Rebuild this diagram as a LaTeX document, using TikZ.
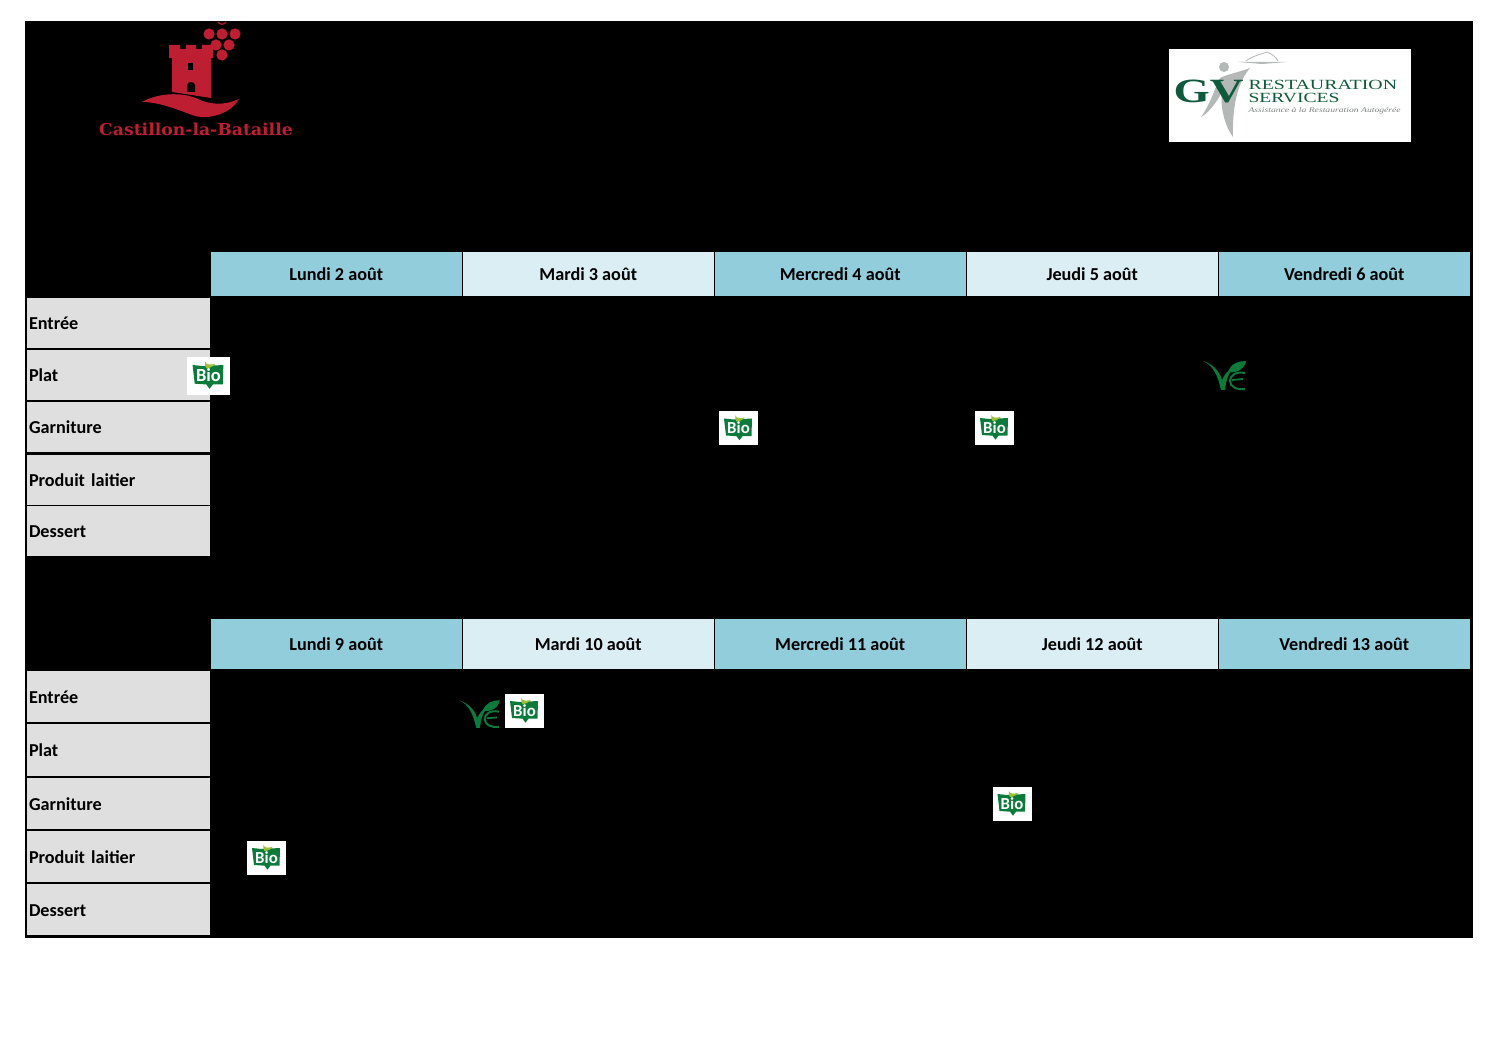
\documentclass[tikz,border=0pt]{standalone}
\usepackage{fontspec}
\setmainfont{Carlito}
\newfontfamily\logoserif{DejaVu Serif}
\newfontfamily\gvserif{Liberation Serif}
\definecolor{headdark}{HTML}{92CDDC}
\definecolor{headlight}{HTML}{DAEEF3}
\definecolor{rowgrey}{HTML}{DFDFDF}
\definecolor{castred}{HTML}{BE1E32}
\definecolor{biogreen}{HTML}{0B7A3B}
\definecolor{bioleaf}{HTML}{9DBF3A}
\definecolor{gvgreen}{HTML}{0F5A3C}
\definecolor{gvgrey}{HTML}{B4B8B6}
\tikzset{
  daycell/.style={minimum width=125.5pt,minimum height=22pt,inner sep=0pt,text=black,
    font=\fontsize{9.1pt}{10pt}\selectfont\bfseries,text height=7.5pt,text depth=1pt},
  rowcell/.style={fill=rowgrey,text width=89.5pt,minimum height=25pt,inner xsep=1pt,inner ysep=0pt,
    align=left,text=black,font=\fontsize{9.1pt}{10pt}\selectfont\bfseries,text height=7.5pt,text depth=1pt},
  biobadge/.pic={
    \fill[white] (-19.5,-17) rectangle (19.5,17);
    \fill[biogreen] (-14.5,-10) -- (-5,-9) -- (13.5,-10) -- (13,7.5) -- (4,7.7) -- (1,11.7) -- (-2,7.7) -- (-12.5,7) -- cycle;
    \fill[bioleaf] (-3,-13) .. controls (-2,-10) and (1,-10) .. (6,-11) .. controls (4,-8) and (0,-7) .. (-2,-7) .. controls (-3,-8) and (-4,-11) .. cycle;
    \node[transform shape,text=white,inner sep=0pt,font=\fontsize{8.4pt}{9pt}\selectfont\bfseries] (biotext) at (0,-0.5) {Bio};
  },
  vemark/.pic={
    \fill[biogreen] (-22,-15) .. controls (-12,-11) and (-7,0) .. (-4,14) -- (0,14) .. controls (1,4) and (4,-4) .. (9,-9) .. controls (3,-6) and (-1,-1) .. (-3,4) .. controls (-5,-4) and (-12,-12) .. cycle;
    \fill[biogreen] (3,-4) .. controls (6,-13) and (14,-15) .. (21,-15) .. controls (20,-8) and (12,-2) .. cycle;
    \draw[biogreen,line width=1pt] (20,-3) .. controls (10,-5) and (5,0) .. (5,5) .. controls (5,11) and (12,14) .. (20,13);
    \draw[biogreen,line width=.9pt] (7,4) -- (18,3);
  }
}
\begin{document}
\begin{tikzpicture}[x=.5pt,y=-.5pt]
    \useasboundingbox (0,0) rectangle (1496,1058);
    \fill[black] (25,21) rectangle (1473,938);

    % commune logo
    \fill[castred] (169,45) -- (180,45) -- (180,49) -- (186,49) -- (186,45) -- (196,45) -- (196,49) -- (202,49) -- (202,45) -- (213,45) -- (213,58) -- (211,58) -- (211,98) -- (172,92) -- (172,58) -- (169,58) -- cycle;
    \fill[black] (188,63) rectangle (193,70);
    \fill[black] (187,92) -- (187,85) .. controls (188,81) and (194,81) .. (195,85) -- (195,92) -- cycle;
    \fill[castred] (142,102) .. controls (160,92) and (185,92) .. (200,100) .. controls (215,106) and (228,104) .. (239,99) .. controls (232,112) and (212,120) .. (195,116) .. controls (178,110) and (160,102) .. (142,102) -- cycle;
    \foreach \gx/\gy in {209/34,222/34,235/34,216/45,229/45,222/55}
      \fill[castred] (\gx,\gy) circle [radius=5.6];
    \draw[castred,line width=.6pt] (218,22) .. controls (220,25) and (224,25) .. (226,22);
    \node[text=castred,inner sep=0pt,xscale=1.05,font=\logoserif\bfseries\fontsize{8.2pt}{8pt}\selectfont] (castlogo) at (196,129) {Castillon-la-Bataille};

    % caterer logo
    \fill[white] (1169,49) rectangle (1411,142);
    \fill[gvgrey] (1224,67) circle [radius=5];
    \fill[gvgrey] (1250,68) .. controls (1240,80) and (1232,100) .. (1233,137) .. controls (1224,125) and (1220,105) .. (1222,92) .. controls (1215,105) and (1208,113) .. (1201,117) .. controls (1210,105) and (1214,90) .. (1220,78) .. controls (1228,74) and (1240,72) .. (1250,68) -- cycle;
    \fill[gvgrey] (1238,62) -- (1287,62) -- (1262,64) -- cycle;
    \draw[gvgrey,line width=.4pt] (1246,61) .. controls (1252,56) and (1262,54) .. (1267,52) .. controls (1272,54) and (1276,57) .. (1278,61);
    \node[text=gvgreen,inner sep=0pt,xscale=1.37,font=\gvserif\bfseries\fontsize{17pt}{17pt}\selectfont] (gvmark) at (1208.5,92) {GV};
    \node[text=gvgreen,inner sep=0pt,anchor=west,xscale=1.42,font=\gvserif\fontsize{7pt}{8pt}\selectfont] (gvname) at (1248,85) {RESTAURATION};
    \node[text=gvgreen,inner sep=0pt,anchor=west,xscale=1.4,font=\gvserif\fontsize{7pt}{8pt}\selectfont] (gvserv) at (1248,98) {SERVICES};
    \node[text=gvgrey!70!black,inner sep=0pt,anchor=west,xscale=1.34,font=\gvserif\itshape\fontsize{3.6pt}{4pt}\selectfont] (gvtag) at (1248,110.5) {Assistance à la Restauration Autogérée};

    % first week
    \node[daycell,fill=headdark] (lunA) at (336.25,274) {Lundi 2 août};
    \node[daycell,fill=headlight] (marA) at (588.25,274) {Mardi 3 août};
    \node[daycell,fill=headdark] (merA) at (840.25,274) {Mercredi 4 août};
    \node[daycell,fill=headlight] (jeuA) at (1092.25,274) {Jeudi 5 août};
    \node[daycell,fill=headdark] (venA) at (1344.25,274) {Vendredi 6 août};
    \node[rowcell] (entA) at (118.5,323) {Entrée};
    \node[rowcell] (plaA) at (118.5,375) {Plat};
    \node[rowcell] (garA) at (118.5,427) {Garniture};
    \node[rowcell] (laiA) at (118.5,480) {Produit laitier};
    \node[rowcell] (desA) at (118.5,531.5) {Dessert};

    % second week
    \node[daycell,fill=headdark,minimum height=25pt] (lunB) at (336.25,644) {Lundi 9 août};
    \node[daycell,fill=headlight,minimum height=25pt] (marB) at (588.25,644) {Mardi 10 août};
    \node[daycell,fill=headdark,minimum height=25pt] (merB) at (840.25,644) {Mercredi 11 août};
    \node[daycell,fill=headlight,minimum height=25pt] (jeuB) at (1092.25,644) {Jeudi 12 août};
    \node[daycell,fill=headdark,minimum height=25pt] (venB) at (1344.25,644) {Vendredi 13 août};
    \node[rowcell,minimum height=25.5pt] (entB) at (118.5,697) {Entrée};
    \node[rowcell,minimum height=26pt] (plaB) at (118.5,750) {Plat};
    \node[rowcell,minimum height=25.5pt] (garB) at (118.5,804) {Garniture};
    \node[rowcell,minimum height=25.5pt] (laiB) at (118.5,857) {Produit laitier};
    \node[rowcell,minimum height=25.5pt] (desB) at (118.5,910) {Dessert};

    % labels
    \pic[scale=1.1] at (208.5,376) {biobadge};
    \pic at (738.5,428.5) {biobadge};
    \pic at (994.5,428) {biobadge};
    \pic at (524.5,711) {biobadge};
    \pic at (1012,804) {biobadge};
    \pic at (266.5,858) {biobadge};
    \pic at (1225,376) {vemark};
    \pic[scale=.95] at (480,714.5) {vemark};
\end{tikzpicture}
\end{document}
